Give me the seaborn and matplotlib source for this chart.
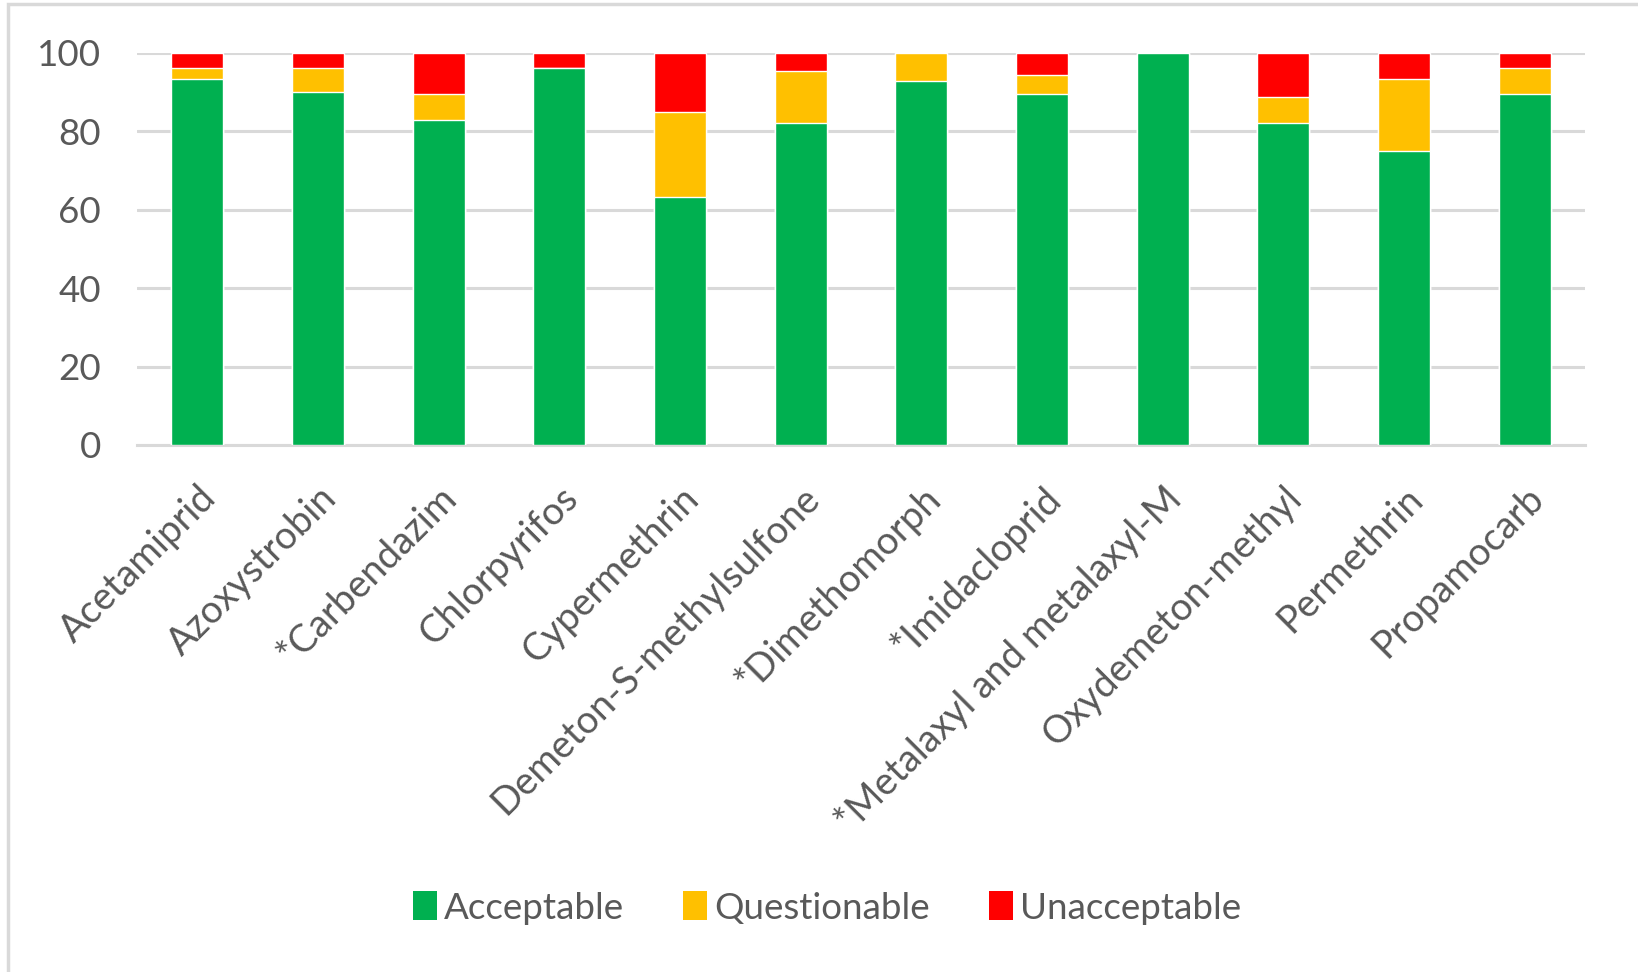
import matplotlib
matplotlib.use("Agg")
import matplotlib.pyplot as plt
import numpy as np
import pandas as pd
import seaborn as sns
from matplotlib.patches import Patch, Rectangle

pesticides = ['Acetamiprid', 'Azoxystrobin', '*Carbendazim', 'Chlorpyrifos',
              'Cypermethrin', 'Demeton-S-methylsulfone', '*Dimethomorph',
              '*Imidacloprid', '*Metalaxyl and metalaxyl-M', 'Oxydemeton-methyl',
              'Permethrin', 'Propamocarb']
acceptable = [93.3, 90.0, 82.8, 96.0, 63.3, 82.2, 92.7, 89.4, 100.0, 82.2, 75.0, 89.4]
questionable = [2.7, 6.0, 6.6, 0.0, 21.7, 13.2, 7.3, 5.0, 0.0, 6.6, 18.3, 6.6]
unacceptable = [4.0, 4.0, 10.6, 4.0, 15.0, 4.6, 0.0, 5.6, 0.0, 11.2, 6.7, 4.0]

series = ['Acceptable', 'Questionable', 'Unacceptable']
colors = {'Acceptable': '#00B050', 'Questionable': '#FFC000', 'Unacceptable': '#FF0000'}
text_color = '#595959'
grid_color = '#D9D9D9'

df = pd.DataFrame({'pesticide': pesticides, 'Acceptable': acceptable,
                   'Questionable': questionable, 'Unacceptable': unacceptable})
# cumulative tops so the layers stack when drawn back to front
df['top_q'] = df['Acceptable'] + df['Questionable']
df['top_u'] = df['top_q'] + df['Unacceptable']

sns.set_theme(style='white')
plt.rcParams['font.family'] = ['Lato', 'DejaVu Sans']

fig = plt.figure(figsize=(16.38, 9.72), dpi=100)
ax = fig.add_axes([0.0836, 0.5422, 0.8841, 0.4036])

bw = 0.43
sns.barplot(data=df, x='pesticide', y='top_u', color=colors['Unacceptable'],
            width=bw, saturation=1, ax=ax, zorder=3)
sns.barplot(data=df, x='pesticide', y='top_q', color=colors['Questionable'],
            width=bw, saturation=1, ax=ax, zorder=3)
sns.barplot(data=df, x='pesticide', y='Acceptable', color=colors['Acceptable'],
            width=bw, saturation=1, ax=ax, zorder=3)

ax.set_ylim(0, 100)
ax.set_xlim(-0.5, len(pesticides) - 0.5)
ax.set_yticks(np.arange(0, 101, 20))
ax.yaxis.grid(True, color=grid_color, linewidth=2.2, zorder=0)
ax.set_axisbelow(True)
for s in ['top', 'right', 'left']:
    ax.spines[s].set_visible(False)
ax.spines['bottom'].set_color(grid_color)
ax.spines['bottom'].set_linewidth(2.2)
ax.set_xlabel('')
ax.set_ylabel('')
ax.tick_params(axis='y', labelsize=26.5, labelcolor=text_color, length=0, pad=26)
ax.tick_params(axis='x', labelsize=27.5, labelcolor=text_color, length=0, pad=25)
plt.setp(ax.get_xticklabels(), rotation=45, ha='right', rotation_mode='anchor')

handles = [Patch(facecolor=colors[s], edgecolor='none') for s in series]
fig.legend(handles, series, loc='center', bbox_to_anchor=(0.505, 0.066), ncol=3,
           frameon=False, fontsize=26.5, labelcolor=text_color, handlelength=0.65,
           handleheight=0.85, handletextpad=0.2, columnspacing=1.6)

fig.patches.append(Rectangle((0.005, -0.01), 1.0, 1.006, transform=fig.transFigure,
                             fill=False, edgecolor=grid_color, linewidth=2.5))

fig.savefig('out.png', dpi=100, facecolor='white')
